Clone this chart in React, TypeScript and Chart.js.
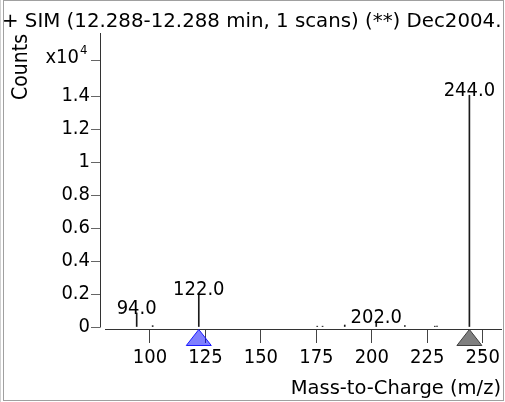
import React, { useEffect, useRef } from "react";
import { Chart, registerables } from "chart.js";

Chart.register(...registerables);

// ---- data ----
const titleText = "+ SIM (12.288-12.288 min, 1 scans) (**) Dec2004.";
const xTitle = "Mass-to-Charge (m/z)";
const yTitle = "Counts";
const yExponent = "4";
const yExponentBase = "x10";

const peakMz = [94, 101.2, 122, 175.4, 177.8, 187.8, 202, 214.9, 228.4, 229.4, 244];
const peakCounts = [0.085, 0.008, 0.2, 0.005, 0.005, 0.012, 0.028, 0.008, 0.005, 0.005, 1.405]; // x10^4

const labeledMz = [94, 122, 202, 244];
const labeledCounts = [0.085, 0.2, 0.028, 1.405];
const peakLabels = ["94.0", "122.0", "202.0", "244.0"];

const markerMz = [122, 244];
const markerFill = ["rgba(0,0,255,0.5)", "#808080"];
const markerStroke = ["#1a1aff", "#404040"];

const xTicks = [100, 125, 150, 175, 200, 225, 250];
const yTicks = [0, 0.2, 0.4, 0.6, 0.8, 1, 1.2, 1.4];
const yTickLabels = ["0", "0.2", "0.4", "0.6", "0.8", "1", "1.2", "1.4"];
const yExponentAt = 1.618;

const FONT = '"DejaVu Sans Condensed", "DejaVu Sans", sans-serif';
const TITLE_FONT = '"DejaVu Sans", sans-serif';

const decorPlugin = {
  id: "decor",
  afterDraw(chart: any) {
    const { ctx, chartArea, scales } = chart;
    const xs = scales.x;
    const ys = scales.y;
    ctx.save();
    // frame
    ctx.strokeStyle = "#a0a0a0";
    ctx.lineWidth = 1;
    ctx.strokeRect(3.5, 0.5, 500, 400);
    ctx.strokeStyle = "#d0d0d0";
    ctx.beginPath();
    ctx.moveTo(0.5, 0);
    ctx.lineTo(0.5, 402);
    ctx.stroke();

    // title
    ctx.fillStyle = "#000";
    ctx.font = `19.8px ${TITLE_FONT}`;
    ctx.textAlign = "left";
    ctx.textBaseline = "alphabetic";
    ctx.fillText(titleText, 2, 27);

    // axis lines
    const y0 = ys.getPixelForValue(0);
    ctx.strokeStyle = "#333";
    ctx.beginPath();
    ctx.moveTo(chartArea.left + 0.5, chartArea.top);
    ctx.lineTo(chartArea.left + 0.5, Math.round(y0) + 0.5);
    ctx.stroke();
    ctx.beginPath();
    ctx.moveTo(chartArea.left + 5, chartArea.bottom + 0.5);
    ctx.lineTo(chartArea.right, chartArea.bottom + 0.5);
    ctx.stroke();

    // exponent tick + label
    const ye = Math.round(ys.getPixelForValue(yExponentAt)) + 0.5;
    ctx.strokeStyle = "#666";
    ctx.beginPath();
    ctx.moveTo(chartArea.left - 9, ye);
    ctx.lineTo(chartArea.left, ye);
    ctx.stroke();
    ctx.fillStyle = "#000";
    ctx.font = `20px ${FONT}`;
    ctx.textAlign = "right";
    ctx.textBaseline = "alphabetic";
    ctx.fillText(yExponentBase, 79, ye + 2);
    ctx.font = `13px ${FONT}`;
    ctx.textAlign = "left";
    ctx.fillText(yExponent, 80, ye - 7);

    // y title
    ctx.save();
    ctx.translate(27, 67);
    ctx.rotate(-Math.PI / 2);
    ctx.font = `21px ${FONT}`;
    ctx.textAlign = "center";
    ctx.textBaseline = "alphabetic";
    ctx.fillText(yTitle, 0, 0);
    ctx.restore();

    // x title
    ctx.font = `19.5px ${TITLE_FONT}`;
    ctx.textAlign = "right";
    ctx.textBaseline = "alphabetic";
    ctx.fillText(xTitle, 501, 394);

    // peak labels
    ctx.font = `20px ${FONT}`;
    ctx.textAlign = "center";
    ctx.textBaseline = "alphabetic";
    labeledMz.forEach((mz, i) => {
      const px = xs.getPixelForValue(mz);
      const py = ys.getPixelForValue(labeledCounts[i]);
      ctx.fillText(peakLabels[i], px, py + 1);
    });

    // precursor / selected markers
    markerMz.forEach((mz, i) => {
      const px = xs.getPixelForValue(mz);
      const top = chartArea.bottom + 0.5;
      ctx.beginPath();
      ctx.moveTo(px, top);
      ctx.lineTo(px + 12.5, top + 16);
      ctx.lineTo(px - 12.5, top + 16);
      ctx.closePath();
      ctx.fillStyle = markerFill[i];
      ctx.fill();
      ctx.strokeStyle = markerStroke[i];
      ctx.stroke();
    });
    ctx.restore();
  },
};

export default function App() {
  const ref = useRef<HTMLCanvasElement | null>(null);
  useEffect(() => {
    if (!ref.current) return;
    const chart = new Chart(ref.current, {
      type: "bar",
      data: {
        datasets: [
          {
            data: peakMz.map((x, i) => ({ x, y: peakCounts[i] })),
            backgroundColor: "#1a1a1a",
            borderWidth: 0,
            barThickness: 1,
            grouped: false,
          } as any,
        ],
      },
      options: {
        animation: false,
        responsive: false,
        maintainAspectRatio: false,
        events: [],
        layout: { padding: { top: 33, right: 3, left: 0, bottom: 0 } },
        plugins: { legend: { display: false }, tooltip: { enabled: false }, title: { display: false } },
        scales: {
          x: {
            type: "linear",
            position: "bottom",
            offset: false,
            min: 77.46,
            max: 258.7,
            afterFit: (s: any) => {
              s.height = 73;
            },
            afterBuildTicks: (s: any) => {
              s.ticks = xTicks.map((v) => ({ value: v }));
            },
            grid: { drawOnChartArea: false, offset: false, tickLength: 14, color: "#444", tickWidth: 1 },
            border: { display: false },
            ticks: {
              font: { family: FONT, size: 20 },
              color: "#000",
              padding: 3,
              maxRotation: 0,
              autoSkip: false,
              callback: (v: any) => String(v),
            },
          },
          y: {
            type: "linear",
            position: "left",
            min: -0.0121,
            max: 1.782,
            afterFit: (s: any) => {
              s.width = 100;
            },
            afterBuildTicks: (s: any) => {
              s.ticks = yTicks.map((v) => ({ value: v }));
            },
            grid: { drawOnChartArea: false, tickLength: 9, color: "#666", tickWidth: 1 },
            border: { display: false },
            ticks: {
              font: { family: FONT, size: 20 },
              color: "#000",
              padding: 1,
              autoSkip: false,
              callback: (v: any) => {
                const i = yTicks.findIndex((t) => Math.abs(t - v) < 1e-9);
                return i >= 0 ? yTickLabels[i] : "";
              },
            },
          },
        },
      },
      plugins: [decorPlugin],
    });
    return () => chart.destroy();
  }, []);
  return (
    <div style={{ position: "absolute", left: 0, top: 0, width: 505, height: 402, background: "#fff" }}>
      <canvas ref={ref} width={505} height={402} style={{ display: "block", width: 505, height: 402 }} />
    </div>
  );
}
